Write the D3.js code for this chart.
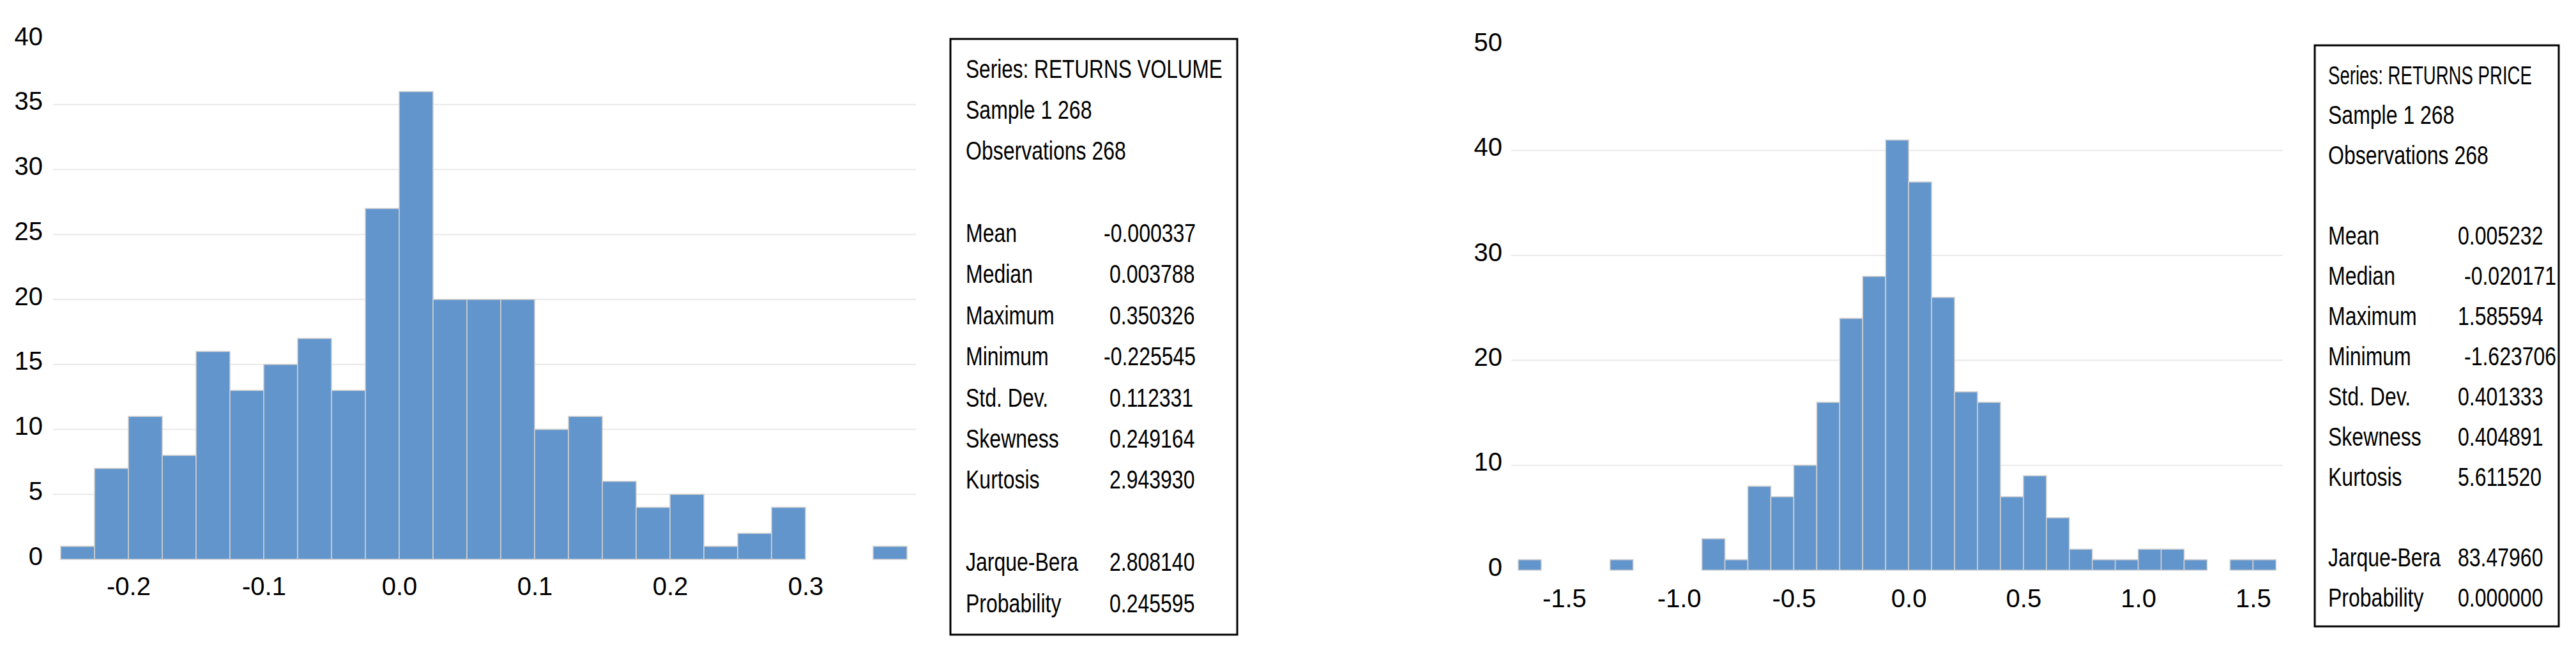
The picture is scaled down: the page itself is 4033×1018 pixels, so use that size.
<!DOCTYPE html>
<html>
<head>
<meta charset="utf-8">
<script src="https://cdn.jsdelivr.net/npm/d3@7"></script>
<style>
  html, body { margin: 0; padding: 0; background: #ffffff; }
  svg { display: block; }
  text { font-family: "Liberation Sans", Arial, sans-serif; fill: #000; }
</style>
</head>
<body>
<svg id="chart" width="4033" height="1018"></svg>
<script>
// ---------------- DATA ----------------
// RETURNS VOLUME histogram (bin lower edges, bin width 0.025)
const volumeBinEdges = [-0.25, -0.225, -0.2, -0.175, -0.15, -0.125, -0.1, -0.075, -0.05, -0.025,
                        0.0, 0.025, 0.05, 0.075, 0.1, 0.125, 0.15, 0.175, 0.2, 0.225,
                        0.25, 0.275, 0.3, 0.325, 0.35];
const volumeBinWidth = 0.025;
const volumeCounts = [1, 7, 11, 8, 16, 13, 15, 17, 13, 27,
                      36, 20, 20, 20, 10, 11, 6, 4, 5, 1,
                      2, 4, 0, 0, 1];
const volumeXTicks = [-0.2, -0.1, 0.0, 0.1, 0.2, 0.3];
const volumeXTickLabels = ["-0.2", "-0.1", "0.0", "0.1", "0.2", "0.3"];
const volumeYTicks = [0, 5, 10, 15, 20, 25, 30, 35, 40];
const volumeHeader = ["Series: RETURNS VOLUME", "Sample 1 268", "Observations 268"];
const volumeStatLabels = ["Mean", "Median", "Maximum", "Minimum", "Std. Dev.", "Skewness", "Kurtosis"];
const volumeStatValues = ["-0.000337", "0.003788", "0.350326", "-0.225545", "0.112331", "0.249164", "2.943930"];
const volumeTestLabels = ["Jarque-Bera", "Probability"];
const volumeTestValues = ["2.808140", "0.245595"];

// RETURNS PRICE histogram (bin lower edges, bin width 0.1)
const priceBinEdges = [-1.7, -1.6, -1.5, -1.4, -1.3, -1.2, -1.1, -1.0, -0.9, -0.8,
                       -0.7, -0.6, -0.5, -0.4, -0.3, -0.2, -0.1, 0.0, 0.1, 0.2,
                       0.3, 0.4, 0.5, 0.6, 0.7, 0.8, 0.9, 1.0, 1.1, 1.2,
                       1.3, 1.4, 1.5];
const priceBinWidth = 0.1;
const priceCounts = [1, 0, 0, 0, 1, 0, 0, 0, 3, 1,
                     8, 7, 10, 16, 24, 28, 41, 37, 26, 17,
                     16, 7, 9, 5, 2, 1, 1, 2, 2, 1,
                     0, 1, 1];
const priceXTicks = [-1.5, -1.0, -0.5, 0.0, 0.5, 1.0, 1.5];
const priceXTickLabels = ["-1.5", "-1.0", "-0.5", "0.0", "0.5", "1.0", "1.5"];
const priceYTicks = [0, 10, 20, 30, 40, 50];
const priceHeader = ["Series: RETURNS PRICE", "Sample 1 268", "Observations 268"];
const priceStatLabels = ["Mean", "Median", "Maximum", "Minimum", "Std. Dev.", "Skewness", "Kurtosis"];
const priceStatValues = ["0.005232", "-0.020171", "1.585594", "-1.623706", "0.401333", "0.404891", "5.611520"];
const priceTestLabels = ["Jarque-Bera", "Probability"];
const priceTestValues = ["83.47960", "0.000000"];

// ---------------- LAYOUT ----------------
const panels = [
  {
    edges: volumeBinEdges, bw: volumeBinWidth, counts: volumeCounts,
    xTicks: volumeXTicks, xLabels: volumeXTickLabels, yTicks: volumeYTicks,
    header: volumeHeader, statLabels: volumeStatLabels, statValues: volumeStatValues,
    testLabels: volumeTestLabels, testValues: volumeTestValues,
    xDomain: [-0.25, 0.375], xRange: [95, 1420],
    yDomain: [0, 40], yRange: [876, 62],
    plotX: [83, 1434], yLabelPad: 16, xLabelPad: 28,
    box: { x: 1488, y: 61, w: 449, h: 933 },
    textX: 1512, rowY0: 107, rowStep: 64.4, textScale: 0.8, titleScale: 0.79,
    valueX: 1737, negShift: -9
  },
  {
    edges: priceBinEdges, bw: priceBinWidth, counts: priceCounts,
    xTicks: priceXTicks, xLabels: priceXTickLabels, yTicks: priceYTicks,
    header: priceHeader, statLabels: priceStatLabels, statValues: priceStatValues,
    testLabels: priceTestLabels, testValues: priceTestValues,
    xDomain: [-1.7, 1.6], xRange: [2377, 3563.3],
    yDomain: [0, 50], yRange: [893, 71.4],
    plotX: [2366, 3574], yLabelPad: 14, xLabelPad: 30,
    box: { x: 3624, y: 71, w: 382, h: 910 },
    textX: 3645, rowY0: 117, rowStep: 63, textScale: 0.8, titleScale: 0.69,
    valueX: 3848, negShift: 10
  }
];

const svg = d3.select("#chart");
const FONT = 40;

panels.forEach(p => {
  const x = d3.scaleLinear().domain(p.xDomain).range(p.xRange);
  const y = d3.scaleLinear().domain(p.yDomain).range(p.yRange);
  const g = svg.append("g");

  // gridlines (skip 0 and top)
  const gridTicks = p.yTicks.filter(t => t !== 0 && t !== p.yDomain[1]);
  g.append("g").selectAll("line").data(gridTicks).join("line")
    .attr("x1", p.plotX[0]).attr("x2", p.plotX[1])
    .attr("y1", d => y(d)).attr("y2", d => y(d))
    .attr("stroke", "#e9e9e9").attr("stroke-width", 2);

  // bars
  const bins = p.edges.map((e, i) => ({ x0: e, x1: e + p.bw, n: p.counts[i] })).filter(d => d.n > 0);
  g.append("g").selectAll("rect").data(bins).join("rect")
    .attr("x", d => x(d.x0))
    .attr("width", d => x(d.x1) - x(d.x0))
    .attr("y", d => y(d.n))
    .attr("height", d => y(0) - y(d.n))
    .attr("fill", "#6295cc")
    .attr("stroke", "#cfcfcf")
    .attr("stroke-width", 1.6);

  // x axis
  const xAxis = d3.axisBottom(x).tickValues(p.xTicks)
    .tickFormat((d, i) => p.xLabels[i]).tickSize(0).tickPadding(p.xLabelPad);
  const gx = g.append("g").attr("transform", `translate(0,${y(0)})`).call(xAxis);
  gx.select(".domain").remove();
  gx.selectAll("text").attr("font-size", FONT).attr("font-family", '"Liberation Sans", Arial, sans-serif').attr("fill", "#000");

  // y axis
  const yAxis = d3.axisLeft(y).tickValues(p.yTicks).tickFormat(d3.format("d"))
    .tickSize(0).tickPadding(p.yLabelPad);
  const gy = g.append("g").attr("transform", `translate(${p.plotX[0]},0)`).call(yAxis);
  gy.select(".domain").remove();
  gy.selectAll("text").attr("font-size", FONT).attr("dy", "0.2em")
    .attr("font-family", '"Liberation Sans", Arial, sans-serif').attr("fill", "#000");

  // statistics box
  g.append("rect")
    .attr("x", p.box.x).attr("y", p.box.y).attr("width", p.box.w).attr("height", p.box.h)
    .attr("fill", "#fff").attr("stroke", "#000").attr("stroke-width", 3);

  const rowBase = i => p.rowY0 + i * p.rowStep + 14.5;

  // title (own horizontal compression)
  g.append("text")
    .attr("transform", `translate(${p.textX},${rowBase(0)}) scale(${p.titleScale},1)`)
    .attr("font-size", FONT).text(p.header[0]);

  const tg = g.append("g").attr("transform", `translate(${p.textX},0) scale(${p.textScale},1)`);
  const s = p.textScale;
  const rows = [];
  p.header.slice(1).forEach((t, i) => rows.push({ row: i + 1, label: t, value: null }));
  p.statLabels.forEach((t, i) => rows.push({ row: 4 + i, label: t, value: p.statValues[i] }));
  p.testLabels.forEach((t, i) => rows.push({ row: 12 + i, label: t, value: p.testValues[i] }));

  tg.selectAll("text.lbl").data(rows).join("text").attr("class", "lbl")
    .attr("x", 0).attr("y", d => rowBase(d.row)).attr("font-size", FONT).text(d => d.label);
  tg.selectAll("text.val").data(rows.filter(d => d.value !== null)).join("text").attr("class", "val")
    .attr("x", d => (p.valueX - p.textX + (d.value.startsWith("-") ? p.negShift : 0)) / s)
    .attr("y", d => rowBase(d.row)).attr("font-size", FONT).text(d => d.value);
});
</script>
</body>
</html>
